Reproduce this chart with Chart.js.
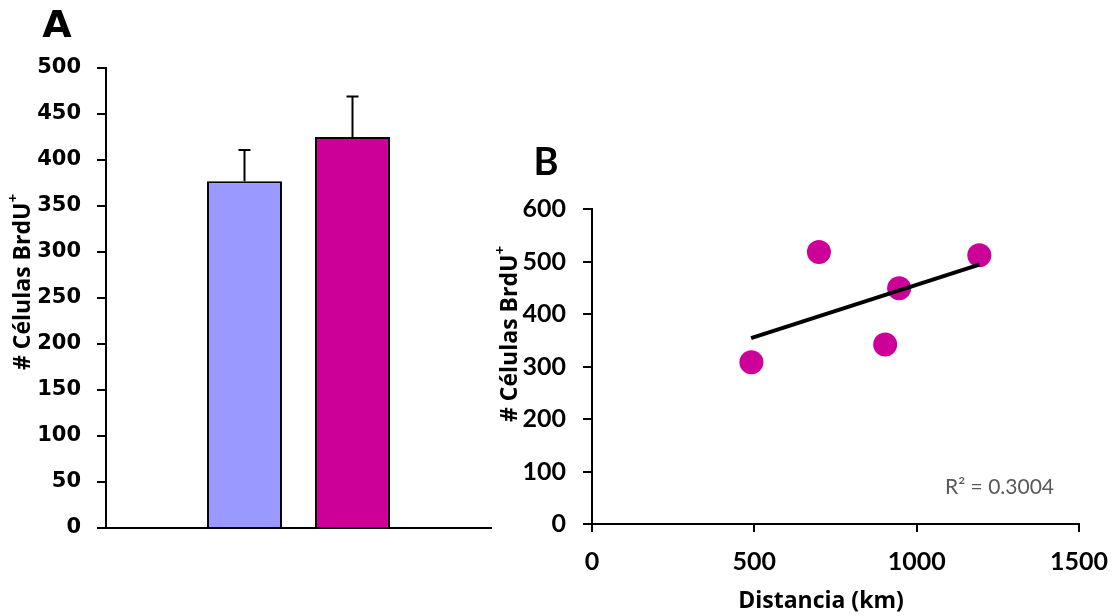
<!DOCTYPE html>
<html>
<head>
<meta charset="utf-8">
<script src="https://cdn.jsdelivr.net/npm/chart.js@4/dist/chart.umd.min.js"></script>
<style>
  body { margin: 0; background: #fff; }
  #chart-a { position: absolute; left: 0; top: 0; }
  #chart-b { position: absolute; left: 494px; top: 0; }
</style>
</head>
<body>
<canvas id="chart-a" width="494" height="616"></canvas>
<canvas id="chart-b" width="620" height="616"></canvas>
<script>
// panel A - bars with error bars
const barCategory = [''];
const groupNames = ['Grupo 1', 'Grupo 2'];
const barMeans = [377, 425];
const barErrors = [34, 44];
const barColors = ['#9999FF', '#CC0099'];

// panel B - scatter with linear trendline
const distanceKm = [491, 699, 946, 903, 1193];
const brduCells = [308, 518, 449, 342, 512];
const trendDistance = [490, 1193];
const trendCells = [354, 494];
const rSquared = 'R² = 0.3004';

const yTitle = '# Células BrdU';
const yTitleSup = '+';
const xTitleB = 'Distancia (km)';

const titleFont = 'bold 23px "Open Sans"';
const supFont = 'bold 15px "Open Sans"';

const panelLetter = {
    id: 'panelLetter',
    afterDraw(chart, args, opts) {
        const ctx = chart.ctx;
        ctx.save();
        ctx.font = opts.font;
        ctx.fillStyle = '#000';
        ctx.textAlign = 'center';
        ctx.fillText(opts.text, opts.x, opts.y);
        ctx.restore();
    }
};

// rotated y title with a real superscript, plus optional x title
const axisTitles = {
    id: 'axisTitles',
    afterDraw(chart, args, opts) {
        const ctx = chart.ctx;
        ctx.save();
        ctx.fillStyle = '#000';
        ctx.textBaseline = 'middle';
        ctx.translate(opts.yx, opts.yy);
        ctx.rotate(-Math.PI / 2);
        ctx.font = titleFont;
        const mainW = ctx.measureText(yTitle).width;
        ctx.font = supFont;
        const supW = ctx.measureText(yTitleSup).width;
        const start = -(mainW + supW) / 2;
        ctx.font = titleFont;
        ctx.textAlign = 'left';
        ctx.fillText(yTitle, start, 0);
        ctx.font = supFont;
        ctx.fillText(yTitleSup, start + mainW, -9);
        ctx.restore();
        if (opts.xText) {
            ctx.save();
            ctx.fillStyle = '#000';
            ctx.font = titleFont;
            ctx.textAlign = 'center';
            ctx.textBaseline = 'middle';
            ctx.fillText(opts.xText, opts.xx, opts.xy);
            ctx.restore();
        }
    }
};

const errorBars = {
    id: 'errorBars',
    afterDatasetsDraw(chart) {
        const ctx = chart.ctx;
        const yScale = chart.scales.y;
        ctx.save();
        ctx.strokeStyle = '#000';
        ctx.lineWidth = 2;
        chart.data.datasets.forEach((ds, i) => {
            chart.getDatasetMeta(i).data.forEach((bar, j) => {
                const top = yScale.getPixelForValue(ds.data[j] + ds.errors[j]);
                ctx.beginPath();
                ctx.moveTo(bar.x, bar.y);
                ctx.lineTo(bar.x, top);
                ctx.moveTo(bar.x - 6, top);
                ctx.lineTo(bar.x + 6, top);
                ctx.stroke();
            });
        });
        ctx.restore();
    }
};

const r2Label = {
    id: 'r2Label',
    afterDraw(chart) {
        const ctx = chart.ctx;
        const area = chart.chartArea;
        ctx.save();
        ctx.font = '21px Lato';
        ctx.fillStyle = '#595959';
        ctx.textAlign = 'right';
        ctx.textBaseline = 'middle';
        ctx.fillText(rSquared, area.right - 25, area.bottom - 37);
        ctx.restore();
    }
};

Chart.defaults.color = '#000';
Chart.defaults.animation = false;

new Chart(document.querySelector('#chart-a').getContext('2d'), {
    type: 'bar',
    data: {
        labels: barCategory,
        datasets: groupNames.map((name, i) => ({
            label: name,
            data: [barMeans[i]],
            errors: [barErrors[i]],
            backgroundColor: barColors[i],
            borderColor: '#000',
            borderWidth: 2,
            categoryPercentage: 0.561,
            barPercentage: 0.694
        }))
    },
    options: {
        responsive: false,
        layout: { padding: { top: 68, right: 3, left: 0, bottom: 0 } },
        plugins: {
            legend: { display: false },
            tooltip: { enabled: false },
            panelLetter: { text: 'A', x: 57, y: 37, font: 'bold 38px "DejaVu Sans"' },
            axisTitles: { yx: 23, yy: 282 }
        },
        scales: {
            x: {
                ticks: { display: false },
                grid: { drawOnChartArea: false, drawTicks: false },
                border: { color: '#000', width: 2 },
                afterFit(scale) { scale.height = 88; }
            },
            y: {
                min: 0,
                max: 500,
                ticks: { stepSize: 50, padding: 16, font: { family: 'DejaVu Sans', weight: 'bold', size: 21 } },
                grid: { drawOnChartArea: false, tickLength: 9, color: '#000', lineWidth: 2 },
                border: { color: '#000', width: 2 },
                afterFit(scale) { scale.width = 106; }
            }
        }
    },
    plugins: [panelLetter, errorBars, axisTitles]
});

new Chart(document.querySelector('#chart-b').getContext('2d'), {
    type: 'scatter',
    data: {
        datasets: [
            {
                type: 'line',
                label: 'Lineal',
                data: trendDistance.map((x, i) => ({ x: x, y: trendCells[i] })),
                borderColor: '#000',
                borderWidth: 4,
                pointRadius: 0,
                fill: false,
                order: 0
            },
            {
                label: 'BrdU',
                data: distanceKm.map((x, i) => ({ x: x, y: brduCells[i] })),
                backgroundColor: '#CC0099',
                borderWidth: 0,
                pointRadius: 12,
                order: 1
            }
        ]
    },
    options: {
        responsive: false,
        layout: { padding: { top: 209, right: 35, left: 0, bottom: 0 } },
        plugins: {
            legend: { display: false },
            tooltip: { enabled: false },
            panelLetter: { text: 'B', x: 52, y: 175, font: 'bold 38px Lato' },
            axisTitles: { yx: 16, yy: 334, xText: xTitleB, xx: 327, xy: 601 }
        },
        scales: {
            x: {
                type: 'linear',
                min: 0,
                max: 1500,
                ticks: {
                    stepSize: 500,
                    padding: 15,
                    maxRotation: 0,
                    callback: value => String(value),
                    font: { family: 'Lato', weight: 'bold', size: 25 }
                },
                grid: { drawOnChartArea: false, tickLength: 8, color: '#000', lineWidth: 2 },
                border: { color: '#000', width: 2 },
                afterFit(scale) {
                    scale.height = 92;
                    scale.paddingLeft = 0;
                    scale.paddingRight = 0;
                }
            },
            y: {
                min: 0,
                max: 600,
                ticks: { stepSize: 100, padding: 17, font: { family: 'Lato', weight: 'bold', size: 25 } },
                grid: { drawOnChartArea: false, tickLength: 9, color: '#000', lineWidth: 2 },
                border: { color: '#000', width: 2 },
                afterFit(scale) { scale.width = 98; }
            }
        }
    },
    plugins: [panelLetter, r2Label, axisTitles]
});
</script>
</body>
</html>
